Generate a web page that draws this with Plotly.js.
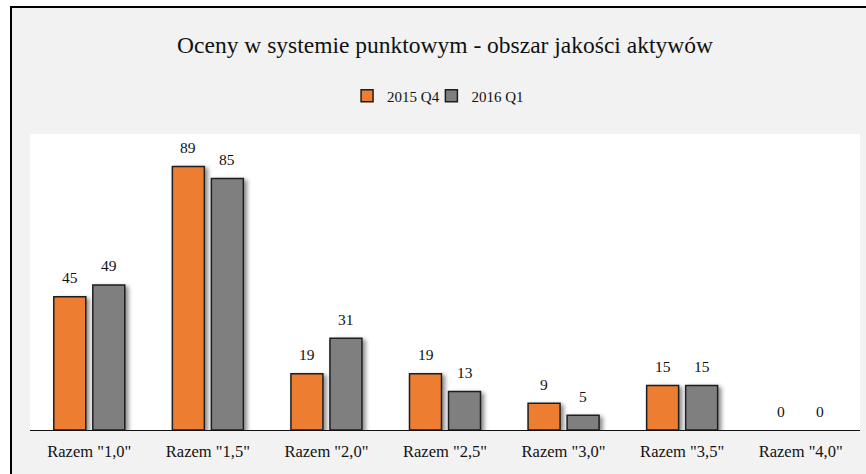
<!DOCTYPE html>
<html>
<head>
<meta charset="utf-8">
<script src="https://cdn.plot.ly/plotly-3.0.1.min.js"></script>
<style>
  html, body { margin: 0; padding: 0; background: #ffffff; overflow: hidden; }
  #frame { position: absolute; left: 10px; top: 6px; width: 856px; height: 468px;
           border-left: 2px solid #000; border-top: 2px solid #000; background: #F2F2F2; }
  #chart { width: 854px; height: 466px; }
  .trace.bars .point path { filter: drop-shadow(3px 2px 2px rgba(0,0,0,0.45)); }
</style>
</head>
<body>
<div id="frame"><div id="chart"></div></div>
<script>
const categories = ['Razem "1,0"', 'Razem "1,5"', 'Razem "2,0"', 'Razem "2,5"', 'Razem "3,0"', 'Razem "3,5"', 'Razem "4,0"'];
const series2015Q4 = [45, 89, 19, 19, 9, 15, 0];
const series2016Q1 = [49, 85, 31, 13, 5, 15, 0];
const seriesNames = ['2015 Q4', '2016 Q1'];

const FONT = 'Liberation Serif, Times New Roman, serif';
const outline = vals => ({ color: '#1E1E1E', width: vals.map(v => v === 0 ? 0 : 1.5) });

const traces = [
  { type: 'bar', name: seriesNames[0], x: categories, y: series2015Q4, legend: 'legend',
    marker: { color: '#ED7D31', line: outline(series2015Q4) } },
  { type: 'bar', name: seriesNames[1], x: categories, y: series2016Q1, legend: 'legend2',
    marker: { color: '#7F7F7F', line: outline(series2016Q1) } }
];

const annotations = [];
[series2015Q4, series2016Q1].forEach((vals, si) => {
  vals.forEach((v, i) => {
    annotations.push({
      x: categories[i], y: v, xref: 'x', yref: 'y',
      text: String(v), showarrow: false,
      xshift: si === 0 ? -19.5 : 19.5, yshift: 19, yanchor: 'middle',
      font: { family: FONT, size: 15.5, color: '#111' }
    });
  });
});

const legendBase = {
  orientation: 'h', xanchor: 'left', y: 1.128, yanchor: 'middle',
  font: { family: FONT, size: 15, color: '#111' }, bgcolor: 'rgba(0,0,0,0)',
  itemwidth: 30, borderwidth: 0
};

const layout = {
  width: 854, height: 466,
  margin: { l: 18, r: 6, t: 126, b: 44 },
  paper_bgcolor: '#F2F2F2',
  plot_bgcolor: '#FFFFFF',
  font: { family: FONT, size: 15, color: '#111' },
  title: { text: 'Oceny w systemie punktowym - obszar jakości aktywów',
           font: { family: FONT, size: 23.5, color: '#111' },
           x: 0.5, xref: 'paper', y: 1 - 37/466, yref: 'container', yanchor: 'middle' },
  showlegend: true,
  legend: Object.assign({}, legendBase, { x: 0.382 }),
  legend2: Object.assign({}, legendBase, { x: 0.4836 }),
  barmode: 'group',
  bargap: 0.342,
  bargroupgap: 0.18,
  xaxis: { type: 'category', showline: true, linecolor: '#111', linewidth: 1.2,
           ticks: '', showgrid: false, ticklabelstandoff: 6,
           tickfont: { family: FONT, size: 16.5, color: '#111' } },
  yaxis: { range: [0, 100], visible: false, showgrid: false, zeroline: false },
  annotations: annotations
};

Plotly.newPlot('chart', traces, layout, { displayModeBar: false, staticPlot: true });
</script>
</body>
</html>
